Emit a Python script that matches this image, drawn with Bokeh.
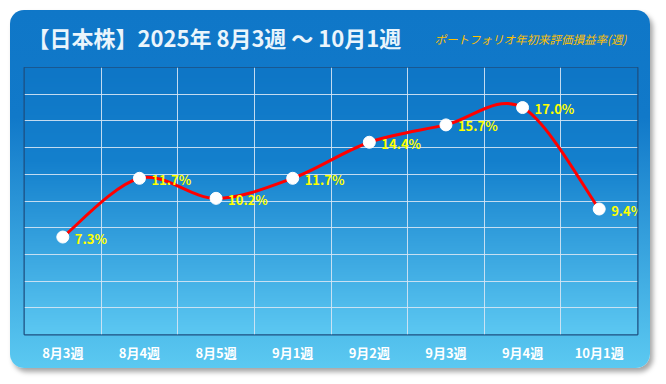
import numpy as np
from bokeh.plotting import figure
from bokeh.layouts import column
from bokeh.models import Range1d, FixedTicker, Label
from bokeh.core.properties import value
from bokeh.embed import file_html
from bokeh.resources import INLINE

# ---- data ----
weeks = ["8月3週", "8月4週", "8月5週", "9月1週", "9月2週", "9月3週", "9月4週", "10月1週"]
returns = [7.3, 11.7, 10.2, 11.7, 14.4, 15.7, 17.0, 9.4]
y_ticks = [0, 2, 4, 6, 8, 10, 12, 14, 16, 18, 20]
title_text = "【日本株】2025年 8月3週 ～ 10月1週"
subtitle_text = "ポートフォリオ年初来評価損益率(週)"

FONT = "Noto Sans CJK JP"
W = 640
HH = 57            # header height
H = 301            # chart height
ML, MR, MB = 14, 13, 34

# ---- header (title + subtitle) ----
hdr = figure(width=W, height=HH, output_backend="svg", toolbar_location=None,
             x_range=Range1d(0, W), y_range=Range1d(0, HH),
             x_axis_location=None, y_axis_location=None, min_border=0)
hdr.border_fill_color = None
hdr.background_fill_color = None
hdr.outline_line_color = None
hdr.grid.visible = False
hdr.add_layout(Label(x=3, y=HH - 26, x_units="screen", y_units="screen",
                     text=title_text, text_font=FONT, text_font_style="bold",
                     text_font_size="22px", text_color="#eaf5fc", text_baseline="middle"))
hdr.add_layout(Label(x=410, y=HH - 28, x_units="screen", y_units="screen",
                     text=subtitle_text, text_font=FONT, text_font_style="italic",
                     text_font_size="11.5px", text_color="#ffc000", text_baseline="middle"))

# ---- chart ----
p = figure(width=W, height=H, output_backend="svg", toolbar_location=None,
           x_range=Range1d(0, len(weeks)), y_range=Range1d(y_ticks[0], y_ticks[-1]),
           y_axis_location=None,
           min_border_left=ML, min_border_right=MR, min_border_top=0, min_border_bottom=MB)
p.border_fill_color = None
p.background_fill_color = None
p.outline_line_color = "#1d4e80"
p.outline_line_width = 2

# plot-area gradient (decoration)
n = 270
img = np.empty((n, 1), dtype=np.uint32)
view = img.view(dtype=np.uint8).reshape((n, 1, 4))
top = np.array([14, 118, 198])
mid = np.array([20, 128, 205])
bot = np.array([92, 200, 242])
for i in range(n):
    t = 1 - i / (n - 1)  # 0 at top, 1 at bottom
    if t < 0.35:
        c = top + (mid - top) * (t / 0.35)
    else:
        c = mid + (bot - mid) * ((t - 0.35) / 0.65)
    view[i, 0, 0:3] = c.astype(np.uint8)
    view[i, 0, 3] = 255
p.image_rgba(image=[img], x=0, y=y_ticks[0], dw=len(weeks), dh=y_ticks[-1] - y_ticks[0], level="image")

# grid
p.xgrid.ticker = FixedTicker(ticks=list(range(1, len(weeks))))
p.ygrid.ticker = FixedTicker(ticks=y_ticks)
for g in (p.xgrid, p.ygrid):
    g.grid_line_color = "#d6e6f4"
    g.grid_line_alpha = 0.9
    g.grid_line_width = 1
    g.level = "underlay"

# x axis
xs = np.arange(len(weeks)) + 0.5
p.xaxis.ticker = FixedTicker(ticks=list(xs))
p.xaxis.major_label_overrides = {float(x): w for x, w in zip(xs, weeks)}
p.xaxis.axis_line_color = None
p.xaxis.major_tick_line_color = None
p.xaxis.minor_tick_line_color = None
p.xaxis.major_label_standoff = 2
p.xaxis.major_label_text_color = "white"
p.xaxis.major_label_text_font = FONT
p.xaxis.major_label_text_font_style = "bold"
p.xaxis.major_label_text_font_size = "13px"

# smooth line (Catmull-Rom as cubic Bezier segments)
ys = np.array(returns, dtype=float)
P = np.column_stack([xs, ys])
Pe = np.vstack([P[0], P, P[-1]])
x0, y0, x1, y1, cx0, cy0, cx1, cy1 = ([] for _ in range(8))
for i in range(len(P) - 1):
    a, b, c, d = Pe[i], Pe[i + 1], Pe[i + 2], Pe[i + 3]
    k0 = b + (c - a) / 6.0
    k1 = c - (d - b) / 6.0
    x0.append(b[0]); y0.append(b[1]); x1.append(c[0]); y1.append(c[1])
    cx0.append(k0[0]); cy0.append(k0[1]); cx1.append(k1[0]); cy1.append(k1[1])
p.bezier(x0=x0, y0=y0, x1=x1, y1=y1, cx0=cx0, cy0=cy0, cx1=cx1, cy1=cy1,
         line_color="#ff0000", line_width=3)

p.scatter(xs, ys, size=12, fill_color="white", line_color="white")

p.text(x=xs, y=ys, text=[f"{v:.1f}%" for v in returns], x_offset=12, y_offset=1,
       text_align="left", text_baseline="middle", text_font=value(FONT),
       text_font_style="bold", text_font_size="13px", text_color="#ffff00")

layout = column(hdr, p, spacing=0)
layout.margin = (10, 0, 0, 10)
layout.styles = {
    "background": "linear-gradient(to bottom, #0f77c8 0%, #1179c9 30%, #5bc9f1 100%)",
    "border-radius": "14px",
    "box-shadow": "3px 4px 5px rgba(0,0,0,0.35)",
}

open("out.html", "w").write(file_html(layout, INLINE))
